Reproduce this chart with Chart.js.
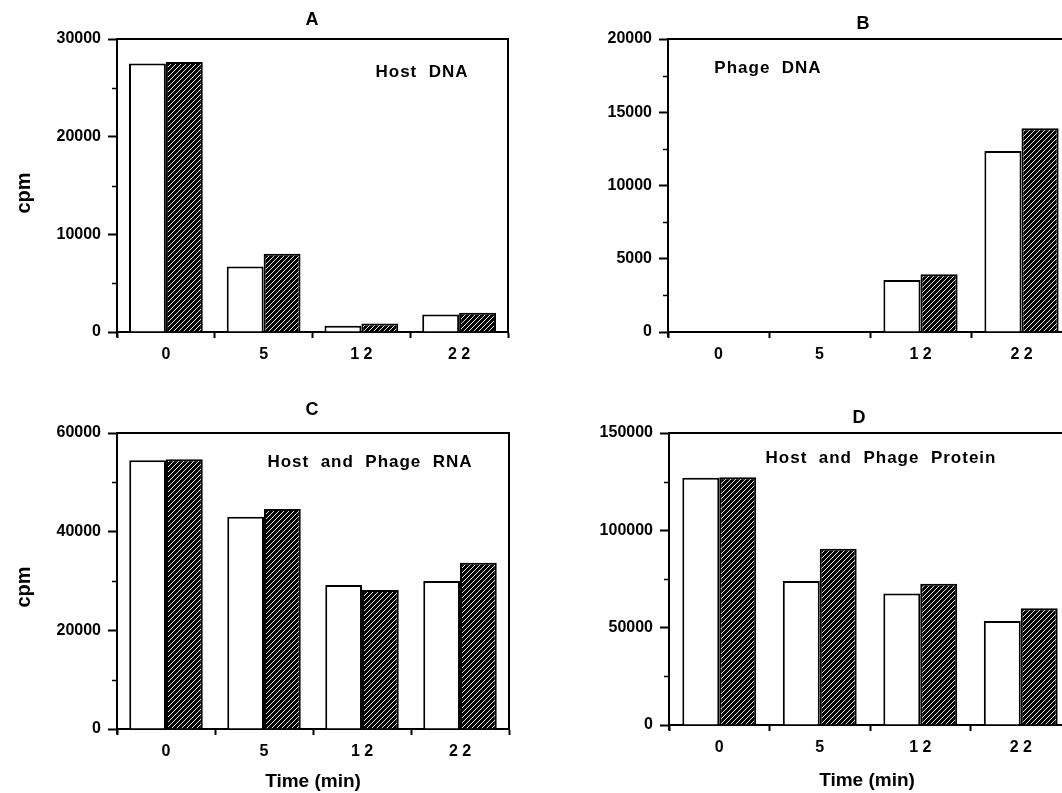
<!DOCTYPE html>
<html>
<head>
<meta charset="utf-8">
<script src="https://cdn.jsdelivr.net/npm/chart.js@4/dist/chart.umd.min.js"></script>
<style>
  html, body { margin: 0; padding: 0; background: #fff; overflow: hidden; width: 1062px; height: 793px; }
  canvas { position: absolute; }
</style>
</head>
<body>
<canvas id="panelA" width="540" height="390" style="left:0;top:0"></canvas>
<canvas id="panelB" width="545" height="390" style="left:540px;top:0"></canvas>
<canvas id="panelC" width="540" height="403" style="left:0;top:390px"></canvas>
<canvas id="panelD" width="545" height="403" style="left:540px;top:390px"></canvas>
<script>
// time points (min), spaced digits as in the figure
const times = ['0', '5', '1 2', '2 2'];

// A: host DNA
const hostDnaOpen = [27500, 6700, 650, 1800];
const hostDnaHatched = [27650, 8000, 880, 1980];
const hostDnaMinor = [5000, 15000, 25000];

// B: phage DNA
const phageDnaOpen = [0, 0, 3550, 12350];
const phageDnaHatched = [0, 0, 3950, 13900];
const phageDnaMinor = [2500, 7500, 12500, 17500];

// C: host and phage RNA
const rnaOpen = [54500, 43000, 29200, 30000];
const rnaHatched = [54700, 44600, 28200, 33700];
const rnaMinor = [10000, 30000, 50000];

// D: host and phage protein
const proteinOpen = [127000, 74000, 67600, 53400];
const proteinHatched = [127300, 90500, 72500, 60000];
const proteinMinor = [25000, 75000, 125000];

const FONT = '"Liberation Sans", Arial, Helvetica, sans-serif';

function makeHatch() {
    const c = document.createElement('canvas');
    c.width = 5; c.height = 5;
    const g = c.getContext('2d');
    g.fillStyle = '#000';
    g.fillRect(0, 0, 5, 5);
    g.strokeStyle = '#fff';
    g.lineWidth = 0.9;
    g.beginPath();
    g.moveTo(0, 5); g.lineTo(5, 0);
    g.moveTo(-1, 1); g.lineTo(1, -1);
    g.moveTo(4, 6); g.lineTo(6, 4);
    g.stroke();
    return g.createPattern(c, 'repeat');
}
const hatch = makeHatch();

// frame, minor ticks and free text
const panelExtras = {
    id: 'panelExtras',
    afterDraw(chart, args, opts) {
        const ctx = chart.ctx;
        const a = chart.chartArea;
        const ys = chart.scales.y;
        ctx.save();
        ctx.strokeStyle = '#000';
        ctx.lineWidth = 2;
        ctx.beginPath();
        ctx.moveTo(a.left - 1, a.top);
        ctx.lineTo(a.right, a.top);
        ctx.lineTo(a.right, a.bottom);
        // y axis pokes a little below the baseline
        ctx.moveTo(a.left, a.bottom);
        ctx.lineTo(a.left, a.bottom + 5);
        ctx.stroke();

        ctx.lineWidth = 1.5;
        ctx.beginPath();
        (opts.minor || []).forEach(v => {
            const py = Math.round(ys.getPixelForValue(v)) + 0.5;
            ctx.moveTo(a.left - 5, py);
            ctx.lineTo(a.left, py);
        });
        ctx.stroke();

        ctx.fillStyle = '#000';
        ctx.textAlign = 'center';
        ctx.textBaseline = 'alphabetic';
        (opts.texts || []).forEach(t => {
            ctx.font = 'bold ' + t.size + 'px ' + FONT;
            ctx.letterSpacing = (t.spacing || 0) + 'px';
            ctx.save();
            ctx.translate(t.x, t.y);
            if (t.rotate) ctx.rotate(-Math.PI / 2);
            ctx.fillText(t.text, 0, 0);
            ctx.restore();
        });
        ctx.restore();
    }
};

function makePanel(id, cfg) {
    const ctx = document.getElementById(id).getContext('2d');
    return new Chart(ctx, {
        type: 'bar',
        data: {
            labels: times,
            datasets: [{
                data: cfg.open,
                backgroundColor: '#fff',
                borderColor: '#000',
                borderWidth: 2
            }, {
                data: cfg.hatched,
                backgroundColor: hatch,
                borderColor: '#000',
                borderWidth: 2
            }]
        },
        options: {
            responsive: false,
            animation: false,
            datasets: {
                bar: { barPercentage: 1, categoryPercentage: cfg.catPct }
            },
            layout: { padding: { left: 0, top: cfg.top, right: cfg.right, bottom: 0 } },
            plugins: {
                legend: { display: false },
                tooltip: { enabled: false },
                panelExtras: { minor: cfg.minor, texts: cfg.texts }
            },
            scales: {
                x: {
                    afterFit(scale) { scale.height = cfg.xHeight; },
                    grid: {
                        offset: true,
                        drawOnChartArea: false,
                        tickLength: 6,
                        tickWidth: 2,
                        color: '#000',
                        tickColor: '#000'
                    },
                    border: { display: true, color: '#000', width: 2 },
                    ticks: {
                        color: '#000',
                        padding: 7,
                        font: { family: FONT, size: 16, weight: 'bold' }
                    }
                },
                y: {
                    min: 0,
                    max: cfg.max,
                    afterFit(scale) { scale.width = cfg.yWidth; },
                    grid: {
                        drawOnChartArea: false,
                        tickLength: 9,
                        tickWidth: 2,
                        color: '#000',
                        tickColor: '#000'
                    },
                    border: { display: true, color: '#000', width: 2 },
                    ticks: {
                        stepSize: cfg.step,
                        color: '#000',
                        padding: 7,
                        font: { family: FONT, size: 16, weight: 'bold' },
                        callback: v => String(v)
                    }
                }
            }
        },
        plugins: [panelExtras]
    });
}

makePanel('panelA', {
    open: hostDnaOpen, hatched: hostDnaHatched, minor: hostDnaMinor,
    max: 30000, step: 10000, catPct: 0.755,
    top: 39, right: 32, yWidth: 117, xHeight: 58,
    texts: [
        { text: 'A', x: 312, y: 25, size: 18 },
        { text: 'Host  DNA', x: 422, y: 77, size: 17, spacing: 1 },
        { text: 'cpm', x: 30, y: 193, size: 20, rotate: true }
    ]
});

makePanel('panelB', {
    open: phageDnaOpen, hatched: phageDnaHatched, minor: phageDnaMinor,
    max: 20000, step: 5000, catPct: 0.735,
    top: 39, right: 13, yWidth: 128, xHeight: 58,
    texts: [
        { text: 'B', x: 323, y: 29, size: 18 },
        { text: 'Phage  DNA', x: 228, y: 73, size: 17, spacing: 1 }
    ]
});

makePanel('panelC', {
    open: rnaOpen, hatched: rnaHatched, minor: rnaMinor,
    max: 60000, step: 20000, catPct: 0.75,
    top: 43, right: 31, yWidth: 117, xHeight: 64,
    texts: [
        { text: 'C', x: 312, y: 25, size: 18 },
        { text: 'Host  and  Phage  RNA', x: 370, y: 77, size: 17, spacing: 1 },
        { text: 'cpm', x: 30, y: 197, size: 20, rotate: true },
        { text: 'Time (min)', x: 313, y: 397, size: 19 }
    ]
});

makePanel('panelD', {
    open: proteinOpen, hatched: proteinHatched, minor: proteinMinor,
    max: 150000, step: 50000, catPct: 0.735,
    top: 43, right: 14, yWidth: 129, xHeight: 68,
    texts: [
        { text: 'D', x: 319, y: 33, size: 18 },
        { text: 'Host  and  Phage  Protein', x: 341, y: 73, size: 17, spacing: 1 },
        { text: 'Time (min)', x: 327, y: 396, size: 19 }
    ]
});
</script>
</body>
</html>
